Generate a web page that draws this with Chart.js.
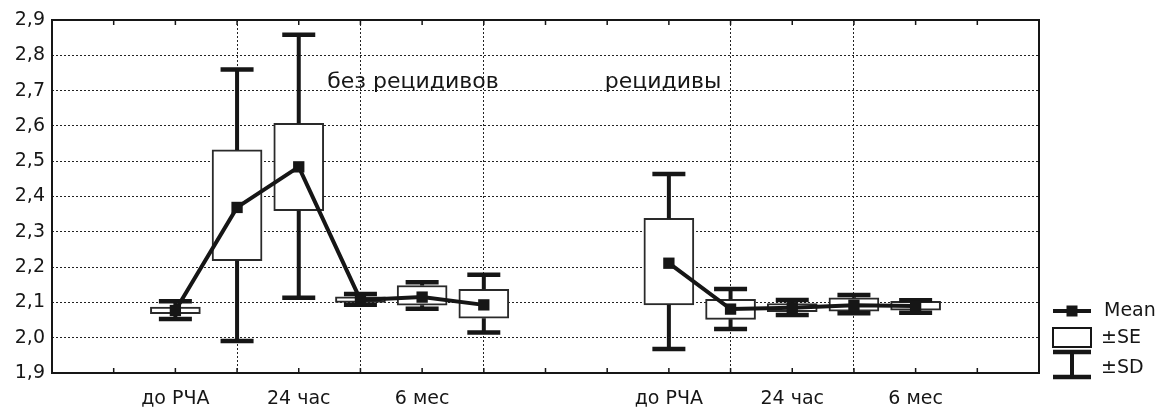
<!DOCTYPE html>
<html>
<head>
<meta charset="utf-8">
<script src="https://cdn.jsdelivr.net/npm/chart.js@4.4.0/dist/chart.umd.min.js"></script>
<style>
  html, body { margin: 0; padding: 0; background: #fff; }
  #wrap { width: 1158px; height: 407px; }
</style>
</head>
<body>
<div id="wrap"><canvas id="chart_box"></canvas></div>
<script>
// groups and x tick labels
var groupNames = ['без рецидивов', 'рецидивы'];
var tickPos = [2, 4, 6, 10, 12, 14];
var tickNames = ['до РЧА', '24 час', '6 мес', 'до РЧА', '24 час', '6 мес'];

// one entry per box
var pointX     = [2, 3, 4, 5, 6, 7, 10, 11, 12, 13, 14];
var pointGroup = [0, 0, 0, 0, 0, 0, 1, 1, 1, 1, 1];
var means  = [2.077, 2.369, 2.484, 2.107, 2.115, 2.093, 2.211, 2.081, 2.085, 2.092, 2.090];
var seLow  = [2.068, 2.218, 2.360, 2.100, 2.092, 2.055, 2.093, 2.052, 2.074, 2.075, 2.078];
var seHigh = [2.087, 2.532, 2.607, 2.116, 2.148, 2.137, 2.338, 2.109, 2.097, 2.113, 2.103];
var sdLow  = [2.053, 1.991, 2.113, 2.093, 2.082, 2.015, 1.968, 2.025, 2.064, 2.069, 2.071];
var sdHigh = [2.103, 2.760, 2.858, 2.124, 2.157, 2.178, 2.464, 2.138, 2.107, 2.121, 2.106];

var FONT = "'DejaVu Sans'";
var INK = '#161616';

document.addEventListener('DOMContentLoaded', function() {
    "use strict";

    var boxData = pointX.map(function(x, i) { return { x: x, y: [seLow[i], seHigh[i]] }; });

    var lineSets = groupNames.map(function(name, g) {
        var pts = [];
        pointX.forEach(function(x, i) {
            if (pointGroup[i] === g) pts.push({ x: x, y: means[i] });
        });
        return {
            type: 'line',
            label: 'Mean',
            data: pts,
            order: 1,
            borderColor: INK,
            borderWidth: 4,
            backgroundColor: INK,
            pointStyle: 'rect',
            pointRadius: 8,
            pointHoverRadius: 8,
            pointBorderWidth: 0,
            tension: 0
        };
    });

    var gridX = [3, 5, 7, 11, 13];

    var whiskers = {
        id: 'whiskers',
        afterDatasetDraw: function(chart, args) {
            if (args.index !== 0) return;
            var ctx = chart.ctx, xs = chart.scales.x, ys = chart.scales.y;
            ctx.save();
            ctx.strokeStyle = INK;
            pointX.forEach(function(x, i) {
                var px = xs.getPixelForValue(x);
                var capW = 16.5;
                ctx.lineWidth = 4;
                ctx.beginPath();
                ctx.moveTo(px, ys.getPixelForValue(seHigh[i]));
                ctx.lineTo(px, ys.getPixelForValue(sdHigh[i]));
                ctx.moveTo(px, ys.getPixelForValue(seLow[i]));
                ctx.lineTo(px, ys.getPixelForValue(sdLow[i]));
                ctx.stroke();
                ctx.lineWidth = 4.5;
                ctx.beginPath();
                ctx.moveTo(px - capW, ys.getPixelForValue(sdHigh[i]));
                ctx.lineTo(px + capW, ys.getPixelForValue(sdHigh[i]));
                ctx.moveTo(px - capW, ys.getPixelForValue(sdLow[i]));
                ctx.lineTo(px + capW, ys.getPixelForValue(sdLow[i]));
                ctx.stroke();
            });
            ctx.restore();
        },
        afterDraw: function(chart) {
            var ctx = chart.ctx, a = chart.chartArea, xs = chart.scales.x, ys = chart.scales.y;
            ctx.save();
            // frame
            ctx.strokeStyle = INK;
            ctx.lineWidth = 2;
            ctx.strokeRect(a.left, a.top, a.right - a.left, a.bottom - a.top);
            // inward tick marks top and bottom
            ctx.lineWidth = 1.5;
            ctx.beginPath();
            for (var v = 1; v < 16; v++) {
                var px = xs.getPixelForValue(v);
                ctx.moveTo(px, a.top);
                ctx.lineTo(px, a.top + 5);
                ctx.moveTo(px, a.bottom);
                ctx.lineTo(px, a.bottom - 5);
            }
            ctx.stroke();
            // group captions
            ctx.fillStyle = INK;
            ctx.font = '22px ' + FONT;
            ctx.textAlign = 'left';
            ctx.textBaseline = 'alphabetic';
            ctx.fillText(groupNames[0], xs.getPixelForValue(4.46), ys.getPixelForValue(2.707));
            ctx.fillText(groupNames[1], xs.getPixelForValue(8.96), ys.getPixelForValue(2.707));
            // legend
            var lx = 1053, rx = 1091, cx = 1072;
            ctx.lineWidth = 4;
            ctx.beginPath();
            ctx.moveTo(lx, 311); ctx.lineTo(rx, 311);
            ctx.stroke();
            ctx.fillRect(cx - 5.5, 305.5, 11, 11);
            ctx.lineWidth = 2;
            ctx.strokeRect(lx, 328, rx - lx, 19);
            ctx.lineWidth = 4.5;
            ctx.beginPath();
            ctx.moveTo(lx, 352); ctx.lineTo(rx, 352);
            ctx.moveTo(lx, 377); ctx.lineTo(rx, 377);
            ctx.stroke();
            ctx.lineWidth = 4;
            ctx.beginPath();
            ctx.moveTo(cx, 352); ctx.lineTo(cx, 377);
            ctx.stroke();
            ctx.font = '19px ' + FONT;
            ctx.textBaseline = 'middle';
            ctx.fillText('Mean', 1104, 311);
            ctx.fillText('±SE', 1101, 338);
            ctx.fillText('±SD', 1101, 368);
            ctx.restore();
        }
    };

    var ctx6 = document.getElementById('chart_box').getContext('2d');
    var boxChart = new Chart(ctx6, {
        type: 'bar',
        data: {
            datasets: [{
                label: '±SE',
                data: boxData,
                order: 2,
                backgroundColor: '#ffffff',
                borderColor: '#2a2a2a',
                borderWidth: 2,
                borderSkipped: false,
                barThickness: 50
            }].concat(lineSets)
        },
        options: {
            animation: false,
            responsive: true,
            maintainAspectRatio: false,
            layout: { padding: { top: 20, right: 119, left: 0, bottom: 0 } },
            plugins: {
                legend: { display: false },
                tooltip: { enabled: false }
            },
            scales: {
                x: {
                    type: 'linear',
                    min: 0,
                    max: 16,
                    offset: false,
                    afterFit: function(scale) { scale.height = 34; },
                    grid: {
                        drawTicks: false,
                        offset: false,
                        lineWidth: 1,
                        color: function(c) {
                            return (c.tick && gridX.indexOf(c.tick.value) >= 0) ? '#222' : 'rgba(0,0,0,0)';
                        }
                    },
                    border: { display: false, dash: [2, 2] },
                    ticks: {
                        stepSize: 1,
                        autoSkip: false,
                        maxRotation: 0,
                        padding: 15,
                        color: INK,
                        font: { family: FONT, size: 19 },
                        callback: function(v) {
                            var k = tickPos.indexOf(v);
                            return k >= 0 ? tickNames[k] : '';
                        }
                    }
                },
                y: {
                    min: 1.9,
                    max: 2.9,
                    afterFit: function(scale) { scale.width = 52; },
                    grid: {
                        drawTicks: false,
                        color: '#222',
                        lineWidth: 1
                    },
                    border: { display: false, dash: [2, 2] },
                    ticks: {
                        stepSize: 0.1,
                        padding: 7,
                        color: INK,
                        font: { family: FONT, size: 19 },
                        callback: function(v) { return v.toFixed(1).replace('.', ','); }
                    }
                }
            }
        },
        plugins: [whiskers]
    });
});
</script>
</body>
</html>
